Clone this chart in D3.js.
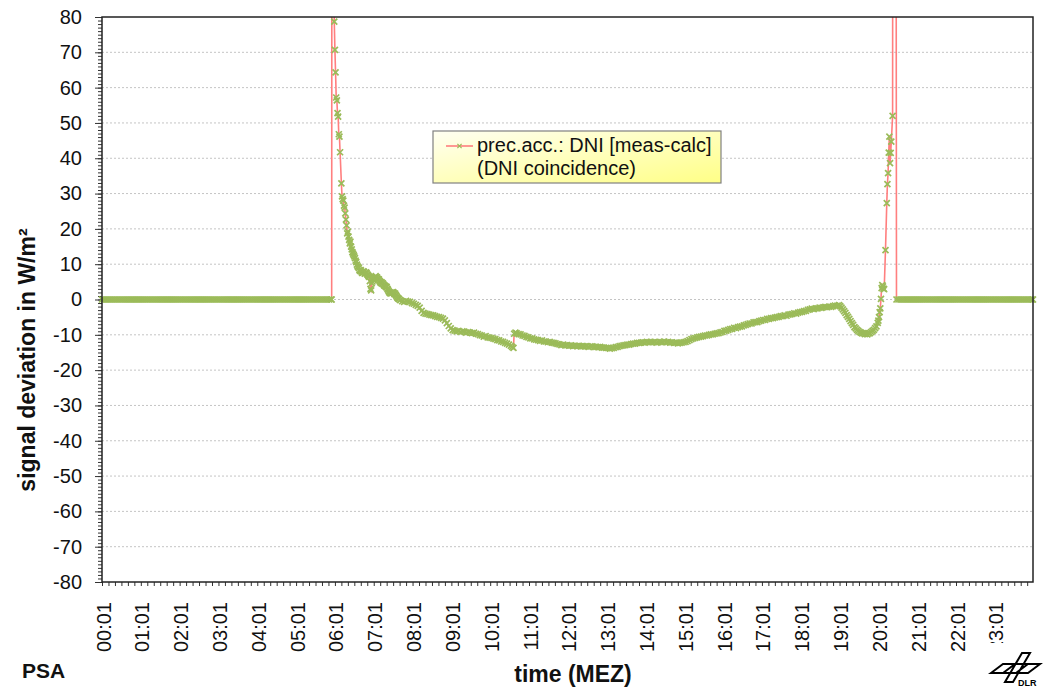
<!DOCTYPE html>
<html>
<head>
<meta charset="utf-8">
<script src="https://cdn.jsdelivr.net/npm/d3@7"></script>
<style>
  html, body { margin: 0; padding: 0; background: #fff; }
  svg { display: block; font-family: "Liberation Sans", Arial, Helvetica, sans-serif; }
</style>
</head>
<body>
<svg id="chart" width="1044" height="687"></svg>
<script>
// ---- data: DNI deviation (measured - calculated), W/m², by time of day (MEZ) ----

// night before sunrise: no signal, deviation 0
const dawnReadings = [
  ["00:01",0],["00:04",0],["00:07",0],["00:10",0],["00:13",0],["00:16",0],["00:19",0],["00:22",0],["00:25",0],["00:28",0],
  ["00:31",0],["00:34",0],["00:37",0],["00:40",0],["00:43",0],["00:46",0],["00:49",0],["00:52",0],["00:55",0],["00:58",0],
  ["01:01",0],["01:04",0],["01:07",0],["01:10",0],["01:13",0],["01:16",0],["01:19",0],["01:22",0],["01:25",0],["01:28",0],
  ["01:31",0],["01:34",0],["01:37",0],["01:40",0],["01:43",0],["01:46",0],["01:49",0],["01:52",0],["01:55",0],["01:58",0],
  ["02:01",0],["02:04",0],["02:07",0],["02:10",0],["02:13",0],["02:16",0],["02:19",0],["02:22",0],["02:25",0],["02:28",0],
  ["02:31",0],["02:34",0],["02:37",0],["02:40",0],["02:43",0],["02:46",0],["02:49",0],["02:52",0],["02:55",0],["02:58",0],
  ["03:01",0],["03:04",0],["03:07",0],["03:10",0],["03:13",0],["03:16",0],["03:19",0],["03:22",0],["03:25",0],["03:28",0],
  ["03:31",0],["03:34",0],["03:37",0],["03:40",0],["03:43",0],["03:46",0],["03:49",0],["03:52",0],["03:55",0],["03:58",0],
  ["04:01",0],["04:04",0],["04:07",0],["04:10",0],["04:13",0],["04:16",0],["04:19",0],["04:22",0],["04:25",0],["04:28",0],
  ["04:31",0],["04:34",0],["04:37",0],["04:40",0],["04:43",0],["04:46",0],["04:49",0],["04:52",0],["04:55",0],["04:58",0],
  ["05:01",0],["05:04",0],["05:07",0],["05:10",0],["05:13",0],["05:16",0],["05:19",0],["05:22",0],["05:25",0],["05:28",0],
  ["05:31",0],["05:34",0],["05:37",0],["05:40",0],["05:43",0],["05:46",0],["05:49",0],["05:52",0],["05:55",0],["05:56",0]
];

// daylight hours, including the sunrise and sunset spikes
const dayReadings = [
  ["05:58",800],["06:00",78.7],["06:01",70.7],["06:02",64.3],["06:03",57.2],["06:04",56.4],["06:05",52.8],["06:06",51.8],
  ["06:07",46.8],["06:08",46.1],["06:09",41.7],["06:11",32.9],["06:12",29.2],["06:13",28.4],["06:14",28.0],["06:15",26.6],
  ["06:16",26.0],["06:17",24.4],["06:18",22.6],["06:19",21.0],["06:20",18.7],["06:21",19.2],["06:22",17.8],["06:23",16.9],
  ["06:24",15.9],["06:25",16.4],["06:26",15.0],["06:27",14.2],["06:28",13.4],["06:29",13.0],["06:30",12.6],["06:31",12.2],
  ["06:32",11.7],["06:33",11.0],["06:34",10.6],["06:35",9.9],["06:36",9.4],["06:37",9.2],["06:38",8.9],["06:39",8.3],
  ["06:40",8.1],["06:41",8.3],["06:42",7.9],["06:43",7.5],["06:44",7.6],["06:45",8.0],["06:46",7.8],["06:47",7.3],
  ["06:48",7.4],["06:49",7.7],["06:50",7.5],["06:51",7.1],["06:52",6.9],["06:53",6.6],["06:54",6.4],["06:55",5.2],
  ["06:56",3.0],["06:57",2.6],["06:58",4.6],["06:59",5.1],["07:00",5.6],["07:01",5.9],["07:02",6.1],["07:03",6.3],
  ["07:04",6.6],["07:05",6.2],["07:06",6.3],["07:07",5.9],["07:08",5.6],["07:09",5.7],["07:10",5.3],["07:11",5.0],
  ["07:12",4.7],["07:13",4.9],["07:14",4.5],["07:15",4.6],["07:16",4.3],["07:17",4.0],["07:18",3.9],["07:19",3.8],
  ["07:20",3.5],["07:21",3.6],["07:22",3.1],["07:23",2.8],["07:24",2.4],["07:25",2.1],["07:26",1.8],["07:27",2.0],
  ["07:28",1.7],["07:29",1.9],["07:30",2.0],["07:31",2.1],["07:32",1.8],["07:33",1.5],["07:34",1.7],["07:35",1.3],
  ["07:36",1.0],["07:37",0.7],["07:38",0.4],["07:39",0.3],["07:40",0.1],["07:42",-0.2],["07:45",-0.5],["07:48",-0.7],
  ["07:51",-0.4],["07:54",-0.6],["07:57",-0.7],["08:00",-1.0],["08:03",-1.2],["08:06",-1.5],["08:09",-1.8],["08:12",-2.3],
  ["08:15",-3.2],["08:18",-3.8],["08:21",-4.0],["08:24",-4.1],["08:27",-4.3],["08:30",-4.4],["08:33",-4.5],["08:36",-4.7],
  ["08:39",-4.9],["08:42",-5.0],["08:45",-5.2],["08:48",-5.4],["08:51",-5.9],["08:54",-6.7],["08:57",-7.5],["09:00",-8.2],
  ["09:03",-8.7],["09:06",-8.8],["09:09",-9.0],["09:12",-8.9],["09:15",-9.2],["09:18",-9.0],["09:21",-9.1],["09:24",-9.4],
  ["09:27",-9.2],["09:30",-9.4],["09:33",-9.5],["09:36",-9.4],["09:39",-9.7],["09:42",-9.8],["09:45",-10.1],["09:48",-10.2],
  ["09:51",-10.5],["09:54",-10.4],["09:57",-10.7],["10:00",-10.8],["10:03",-10.9],["10:06",-11.1],["10:09",-11.2],["10:12",-11.5],
  ["10:15",-11.6],["10:18",-11.9],["10:21",-12.0],["10:24",-12.3],["10:27",-12.5],["10:30",-12.8],["10:33",-13.1],["10:35",-13.4],
  ["10:37",-13.7],["10:38",-9.7],["10:40",-9.4],["10:42",-9.6],["10:45",-9.8],["10:48",-9.9],["10:51",-10.2],["10:54",-10.3],
  ["10:57",-10.6],["11:00",-10.7],["11:03",-11.0],["11:06",-11.0],["11:09",-11.3],["11:12",-11.4],["11:15",-11.5],["11:18",-11.7],
  ["11:21",-11.6],["11:24",-11.9],["11:27",-11.9],["11:30",-12.1],["11:33",-12.0],["11:36",-12.2],["11:39",-12.3],["11:42",-12.4],
  ["11:45",-12.6],["11:48",-12.7],["11:51",-12.9],["11:54",-12.8],["11:57",-13.0],["12:00",-12.9],["12:03",-13.1],["12:06",-13.0],
  ["12:09",-13.2],["12:12",-13.1],["12:15",-13.2],["12:18",-13.1],["12:21",-13.3],["12:24",-13.2],["12:27",-13.3],["12:30",-13.2],
  ["12:33",-13.4],["12:36",-13.3],["12:39",-13.3],["12:42",-13.5],["12:45",-13.4],["12:48",-13.5],["12:51",-13.4],["12:54",-13.6],
  ["12:57",-13.6],["13:00",-13.7],["13:03",-13.7],["13:06",-13.9],["13:09",-13.8],["13:12",-13.7],["13:15",-13.5],["13:18",-13.4],
  ["13:21",-13.2],["13:24",-13.1],["13:27",-13.0],["13:30",-12.9],["13:33",-12.8],["13:36",-12.8],["13:39",-12.6],["13:42",-12.5],
  ["13:45",-12.5],["13:48",-12.3],["13:51",-12.3],["13:54",-12.2],["13:57",-12.1],["14:00",-12.2],["14:03",-12.0],["14:06",-12.1],
  ["14:09",-12.0],["14:12",-12.1],["14:15",-12.0],["14:18",-12.2],["14:21",-12.1],["14:24",-12.0],["14:27",-12.1],["14:30",-11.9],
  ["14:33",-12.1],["14:36",-12.0],["14:39",-12.2],["14:42",-12.1],["14:45",-12.3],["14:48",-12.2],["14:51",-12.4],["14:54",-12.3],
  ["14:57",-12.2],["15:00",-12.1],["15:03",-12.0],["15:06",-11.8],["15:09",-11.5],["15:12",-11.2],["15:15",-11.0],["15:18",-10.9],
  ["15:21",-10.7],["15:24",-10.6],["15:27",-10.5],["15:30",-10.4],["15:33",-10.2],["15:36",-10.2],["15:39",-10.0],["15:42",-9.9],
  ["15:45",-9.9],["15:48",-9.7],["15:51",-9.6],["15:54",-9.5],["15:57",-9.3],["16:00",-9.2],["16:03",-8.9],["16:06",-8.8],
  ["16:09",-8.6],["16:12",-8.4],["16:15",-8.3],["16:18",-8.0],["16:21",-8.1],["16:24",-7.8],["16:27",-7.7],["16:30",-7.6],
  ["16:33",-7.3],["16:36",-7.2],["16:39",-7.0],["16:42",-6.8],["16:45",-6.8],["16:48",-6.5],["16:51",-6.4],["16:54",-6.4],
  ["16:57",-6.1],["17:00",-6.0],["17:03",-5.8],["17:06",-5.8],["17:09",-5.5],["17:12",-5.5],["17:15",-5.3],["17:18",-5.3],
  ["17:21",-5.1],["17:24",-5.0],["17:27",-4.9],["17:30",-4.7],["17:33",-4.7],["17:36",-4.5],["17:39",-4.6],["17:42",-4.3],
  ["17:45",-4.2],["17:48",-4.1],["17:51",-3.9],["17:54",-4.0],["17:57",-3.7],["18:00",-3.6],["18:03",-3.5],["18:06",-3.3],
  ["18:09",-3.2],["18:12",-2.9],["18:15",-2.8],["18:18",-2.6],["18:21",-2.7],["18:24",-2.5],["18:27",-2.5],["18:30",-2.3],
  ["18:33",-2.4],["18:36",-2.2],["18:39",-2.1],["18:42",-2.2],["18:45",-2.0],["18:48",-2.1],["18:51",-1.9],["18:54",-1.7],
  ["18:57",-1.8],["19:00",-1.6],["19:02",-1.9],["19:04",-2.3],["19:06",-2.8],["19:08",-3.3],["19:10",-3.8],["19:12",-4.4],
  ["19:14",-4.9],["19:16",-5.5],["19:18",-6.1],["19:20",-6.7],["19:22",-7.2],["19:24",-7.8],["19:26",-8.2],["19:28",-8.6],
  ["19:30",-8.9],["19:32",-9.2],["19:34",-9.4],["19:36",-9.6],["19:38",-9.5],["19:40",-9.8],["19:42",-9.7],["19:44",-9.9],
  ["19:46",-9.6],["19:48",-9.5],["19:50",-9.2],["19:52",-8.9],["19:54",-8.6],["19:56",-8.1],["19:58",-7.6],["20:00",-6.6],
  ["20:01",-6.0],["20:02",-5.0],["20:03",-3.6],["20:04",-2.5],["20:05",0.2],["20:06",3.2],["20:07",4.1],["20:08",3.7],
  ["20:09",3.1],["20:10",2.9],["20:12",14.0],["20:14",27.3],["20:15",32.7],["20:16",35.8],["20:17",41.6],["20:18",46.1],
  ["20:19",38.6],["20:20",41.5],["20:21",44.7],["20:23",52.0],["20:25",800]
];

// night after sunset
const duskReadings = [
  ["20:29",0],["20:32",0],["20:35",0],["20:38",0],["20:41",0],["20:44",0],["20:47",0],["20:50",0],["20:53",0],["20:56",0],["20:59",0],
  ["21:02",0],["21:05",0],["21:08",0],["21:11",0],["21:14",0],["21:17",0],["21:20",0],["21:23",0],["21:26",0],["21:29",0],
  ["21:32",0],["21:35",0],["21:38",0],["21:41",0],["21:44",0],["21:47",0],["21:50",0],["21:53",0],["21:56",0],["21:59",0],
  ["22:02",0],["22:05",0],["22:08",0],["22:11",0],["22:14",0],["22:17",0],["22:20",0],["22:23",0],["22:26",0],["22:29",0],
  ["22:32",0],["22:35",0],["22:38",0],["22:41",0],["22:44",0],["22:47",0],["22:50",0],["22:53",0],["22:56",0],["22:59",0],
  ["23:02",0],["23:05",0],["23:08",0],["23:11",0],["23:14",0],["23:17",0],["23:20",0],["23:23",0],["23:26",0],["23:29",0],
  ["23:32",0],["23:35",0],["23:38",0],["23:41",0],["23:44",0],["23:47",0],["23:50",0],["23:53",0],["23:56",0],["23:59",0],
  ["24:00",0]
];

const hourLabels = ["00:01","01:01","02:01","03:01","04:01","05:01","06:01","07:01","08:01","09:01","10:01","11:01",
                    "12:01","13:01","14:01","15:01","16:01","17:01","18:01","19:01","20:01","21:01","22:01","23:01"];
const yTickValues = [80,70,60,50,40,30,20,10,0,-10,-20,-30,-40,-50,-60,-70,-80];

const seriesName = ["prec.acc.: DNI [meas-calc]", "(DNI coincidence)"];

// ---- layout ----
const svg = d3.select("#chart");
const plot = { left: 102, right: 1033, top: 17, bottom: 582 };
const FONT = "\"Liberation Sans\", Arial, Helvetica, sans-serif";
const LINE_RED = "#ff7f7f";
const MARK_GREEN = "#9bbb59";
const AXIS = "#333";

const toMinutes = s => { const [h, m] = s.split(":").map(Number); return h * 60 + m; };

const x = d3.scaleLinear().domain([1, 1440]).range([plot.left, plot.right]);
const y = d3.scaleLinear().domain([-80, 80]).range([plot.bottom, plot.top]);

const points = [...dawnReadings, ...dayReadings, ...duskReadings]
  .map(([t, v]) => ({ m: toMinutes(t), v }));

const defs = svg.append("defs");
defs.append("clipPath").attr("id", "plot-clip")
  .append("rect")
  .attr("x", plot.left - 6).attr("y", plot.top)
  .attr("width", plot.right - plot.left + 12).attr("height", plot.bottom - plot.top);

const grad = defs.append("linearGradient").attr("id", "legend-fill")
  .attr("x1", "0").attr("y1", "0").attr("x2", "1").attr("y2", "1");
grad.append("stop").attr("offset", "0%").attr("stop-color", "#fffff2");
grad.append("stop").attr("offset", "100%").attr("stop-color", "#ffff86");

// horizontal dotted gridlines
svg.append("g")
  .selectAll("line")
  .data(yTickValues.filter(v => v !== 80 && v !== -80))
  .join("line")
  .attr("x1", plot.left).attr("x2", plot.right)
  .attr("y1", d => y(d)).attr("y2", d => y(d))
  .attr("stroke", "#c4c4c4").attr("stroke-width", 1)
  .attr("stroke-dasharray", "2,2");

// y axis: minor ticks every 1 W/m², major ticks every 10
const yMinor = d3.range(-80, 81, 1);
svg.append("g")
  .attr("transform", `translate(${plot.left},0)`)
  .call(d3.axisLeft(y).tickValues(yMinor).tickSize(4).tickFormat(""))
  .call(g => g.select(".domain").remove())
  .call(g => g.selectAll("line").attr("stroke", AXIS));

svg.append("g")
  .attr("transform", `translate(${plot.left},0)`)
  .call(d3.axisLeft(y).tickValues(yTickValues).tickSize(7).tickPadding(13).tickFormat(d => String(d)))
  .call(g => g.select(".domain").remove())
  .call(g => g.selectAll("line").attr("stroke", AXIS))
  .call(g => g.selectAll("text")
    .attr("font-family", FONT).attr("font-size", 20).attr("fill", "#111"));

// x axis: ticks every 10 minutes
const xMinor = d3.range(1, 1441, 10);
svg.append("g")
  .attr("transform", `translate(0,${plot.bottom})`)
  .call(d3.axisBottom(x).tickValues(xMinor).tickSize(4).tickFormat(""))
  .call(g => g.select(".domain").remove())
  .call(g => g.selectAll("line").attr("stroke", AXIS));

// hour labels, rotated
svg.append("g")
  .selectAll("text")
  .data(hourLabels)
  .join("text")
  .attr("transform", d => `translate(${x(toMinutes(d)) + 1.5},602) rotate(-90)`)
  .attr("text-anchor", "end")
  .attr("dy", "0.35em")
  .attr("font-family", FONT).attr("font-size", 20).attr("fill", "#111")
  .text(d => d);

// series: red line with green x markers
const seriesG = svg.append("g").attr("clip-path", "url(#plot-clip)");
seriesG.append("path")
  .datum(points)
  .attr("fill", "none")
  .attr("stroke", LINE_RED)
  .attr("stroke-width", 1.6)
  .attr("d", d3.line().x(d => x(d.m)).y(d => y(d.v)));

const markerPath = "M-3,-3L3,3M-3,3L3,-3";
seriesG.append("g")
  .selectAll("path")
  .data(points.filter(d => d.v <= 80 && d.v >= -80))
  .join("path")
  .attr("transform", d => `translate(${x(d.m)},${y(d.v)})`)
  .attr("d", markerPath)
  .attr("fill", "none")
  .attr("stroke", MARK_GREEN)
  .attr("stroke-width", 1.7);

// plot-area frame
svg.append("rect")
  .attr("x", plot.left).attr("y", plot.top)
  .attr("width", plot.right - plot.left).attr("height", plot.bottom - plot.top)
  .attr("fill", "none").attr("stroke", "#222").attr("stroke-width", 1.5);

// legend
const lg = svg.append("g");
lg.append("rect")
  .attr("x", 433).attr("y", 131).attr("width", 288).attr("height", 52)
  .attr("fill", "url(#legend-fill)").attr("stroke", "#808080").attr("stroke-width", 1.2);
lg.append("line")
  .attr("x1", 446).attr("x2", 473).attr("y1", 146).attr("y2", 146)
  .attr("stroke", LINE_RED).attr("stroke-width", 1.6);
lg.append("path")
  .attr("transform", "translate(459.5,146) scale(0.7)")
  .attr("d", markerPath).attr("fill", "none")
  .attr("stroke", MARK_GREEN).attr("stroke-width", 1.7);
lg.selectAll("text.entry")
  .data(seriesName)
  .join("text")
  .attr("class", "entry")
  .attr("x", 477).attr("y", (d, i) => 152 + i * 23)
  .attr("font-family", FONT).attr("font-size", 20).attr("fill", "#111")
  .text(d => d);

// axis titles
svg.append("text")
  .attr("transform", "translate(35,360) rotate(-90)")
  .attr("text-anchor", "middle")
  .attr("font-family", FONT).attr("font-size", 23).attr("font-weight", "bold").attr("fill", "#111")
  .text("signal deviation in W/m²");

svg.append("text")
  .attr("x", 573).attr("y", 682)
  .attr("text-anchor", "middle")
  .attr("font-family", FONT).attr("font-size", 23).attr("font-weight", "bold").attr("fill", "#111")
  .text("time (MEZ)");

svg.append("text")
  .attr("x", 22).attr("y", 678)
  .attr("font-family", FONT).attr("font-size", 21).attr("font-weight", "bold").attr("fill", "#111")
  .text("PSA");

// DLR emblem on its own white tile
const logo = svg.append("g");
logo.append("rect").attr("x", 984).attr("y", 643).attr("width", 60).attr("height", 44).attr("fill", "#fff");
logo.append("path")
  .attr("d", "M991,673 L1003,664 L1040,664 L1028,673 Z M1003,673 L1015,664 M1016,673 L1028,664 M1022,653 L1030,653 L1013,682 L1005,682 Z")
  .attr("fill", "none").attr("stroke", "#000").attr("stroke-width", 2).attr("stroke-linejoin", "miter");
logo.append("text")
  .attr("x", 1018).attr("y", 686)
  .attr("font-family", FONT).attr("font-size", 9).attr("font-weight", "bold").attr("fill", "#000")
  .text("DLR");
</script>
</body>
</html>
